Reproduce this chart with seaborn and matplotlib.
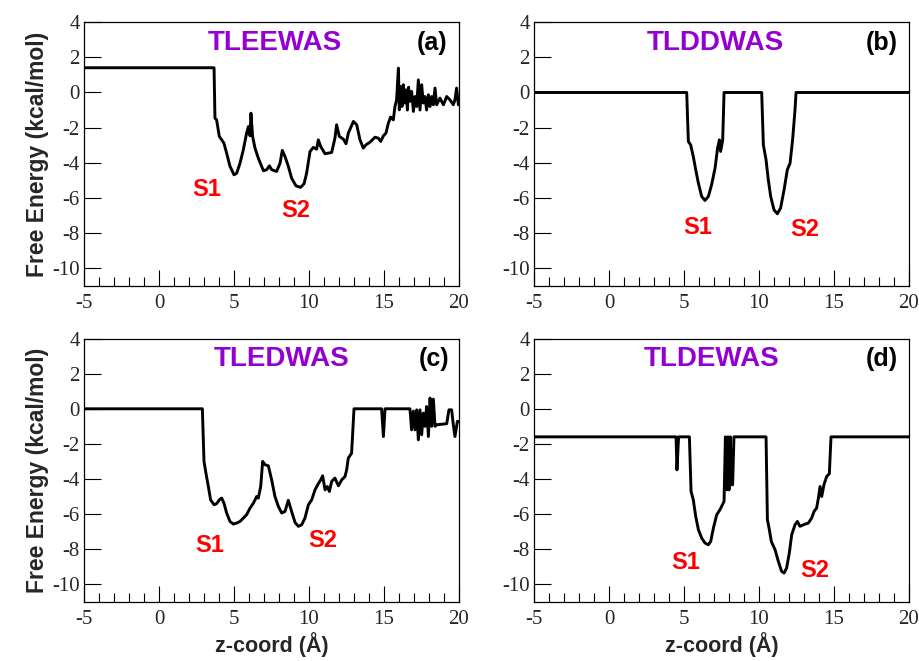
import numpy as np
import pandas as pd
import matplotlib
matplotlib.use("Agg")
import matplotlib.pyplot as plt
import seaborn as sns
from matplotlib.ticker import MultipleLocator

sns.set_theme(style="white")
plt.rcParams['font.family'] = ['Liberation Serif', 'DejaVu Sans']
plt.rcParams['axes.unicode_minus'] = False

# ---------------- data ----------------
x_a = [-5, 3.67, 3.73, 3.84, 4.02, 4.18, 4.33, 4.51, 4.73, 5.0, 5.18, 5.4, 5.62, 5.84, 5.96,
       6.07, 6.13, 6.24, 6.4, 6.62, 6.96, 7.18, 7.36, 7.51, 7.84, 8.07, 8.22, 8.4, 8.62, 8.84,
       9.13, 9.44, 9.67, 9.84, 10.07, 10.29, 10.51, 10.62, 10.78, 11.07, 11.51, 11.73, 11.84,
       12.02, 12.29, 12.47, 12.62, 12.96, 13.18, 13.4, 13.62, 13.8, 14.07, 14.4, 14.62, 14.78,
       14.96, 15.13, 15.29, 15.44, 15.62, 15.73, 15.84, 15.96, 16.02, 16.11, 16.2, 16.29, 16.38,
       16.47, 16.56, 16.64, 16.73, 16.84, 16.96, 17.07, 17.18, 17.29, 17.4, 17.51, 17.62, 17.73,
       17.84, 17.96, 18.07, 18.18, 18.29, 18.4, 18.51, 18.73, 18.96, 19.18, 19.4, 19.62, 19.73,
       19.84, 19.96, 20.1]
y_a = [1.41, 1.41, -1.46, -1.56, -2.5, -2.7, -2.89, -3.46, -4.2, -4.69, -4.6, -4.03, -3.27, -2.32,
       -1.94, -2.47, -1.18, -2.5, -3.17, -3.74, -4.46, -4.4, -4.18, -4.4, -4.5, -4.03, -3.3, -3.65,
       -4.2, -4.88, -5.32, -5.41, -5.2, -4.6, -3.36, -3.13, -3.23, -2.7, -3.08, -3.49, -3.42, -2.6,
       -1.84, -2.5, -2.66, -2.92, -2.32, -1.65, -1.84, -2.7, -3.17, -2.98, -2.83, -2.55, -2.6,
       -2.79, -2.47, -2.32, -1.75, -1.4, -1.56, -0.8, -0.42, 1.39, -0.99, 0.34, -0.8, 0.44, -0.6,
       0.15, -1.0, 0.3, -0.5, 0.06, -1.08, -0.23, -0.8, 0.72, -1.0, 0.44, -0.6, -0.23, -1.0, -0.13,
       -0.8, -0.23, -0.7, 0.25, -0.7, -0.32, -0.7, -0.23, -0.42, -0.7, -0.42, 0.25, -0.7, -0.7]

x_b = [-5, 5.18, 5.29, 5.44, 5.62, 5.78, 5.96, 6.18, 6.4, 6.62, 6.84, 7.07, 7.24, 7.36, 7.44,
       7.58, 7.67, 10.18, 10.29, 10.47, 10.62, 10.78, 11.0, 11.22, 11.44, 11.67, 11.89, 12.07,
       12.24, 12.4, 12.47, 20.1]
y_b = [0, 0, -2.79, -2.98, -3.65, -4.4, -5.17, -5.93, -6.15, -5.93, -5.26, -4.31, -3.17, -2.7,
       -3.36, -2.7, 0, 0, -2.98, -3.84, -4.98, -5.93, -6.69, -6.91, -6.59, -5.55, -4.4, -4.03,
       -2.7, -0.99, 0, 0]

x_c = [-5, 2.89, 3.0, 3.13, 3.29, 3.44, 3.67, 3.84, 4.02, 4.18, 4.33, 4.51, 4.73, 4.96, 5.18,
       5.4, 5.62, 5.84, 6.07, 6.29, 6.51, 6.62, 6.78, 6.91, 7.07, 7.29, 7.51, 7.73, 7.96, 8.18,
       8.4, 8.62, 8.84, 9.07, 9.29, 9.51, 9.73, 9.96, 10.18, 10.4, 10.62, 10.78, 10.91, 11.07,
       11.22, 11.36, 11.51, 11.73, 11.96, 12.18, 12.4, 12.51, 12.62, 12.84, 13.0, 14.84, 14.96,
       15.07, 16.73, 16.84, 16.96, 17.07, 17.18, 17.29, 17.4, 17.51, 17.62, 17.73, 17.84, 17.96,
       18.07, 18.18, 18.29, 18.4, 18.51, 19.18, 19.33, 19.51, 19.62, 19.73, 19.89, 20.1]
y_c = [0, 0, -3.0, -3.67, -4.43, -5.19, -5.47, -5.41, -5.19, -5.09, -5.38, -5.94, -6.42, -6.57,
       -6.51, -6.42, -6.23, -6.04, -5.66, -5.38, -5.0, -5.09, -4.43, -3.0, -3.19, -3.25, -4.05,
       -5.0, -5.57, -5.94, -5.85, -5.22, -5.85, -6.48, -6.7, -6.61, -6.23, -5.47, -5.19, -4.62,
       -4.27, -4.05, -3.82, -4.62, -4.43, -4.71, -4.14, -3.95, -4.39, -4.05, -3.86, -3.48, -2.81,
       -2.53, 0, 0, -1.58, 0, 0, -1.2, -0.13, -1.2, -0.06, -1.77, -0.06, -1.48, -0.25, -1.0, 0.13,
       -1.58, 0.61, -1.0, 0.55, -1.0, -0.91, -0.85, -0.06, -0.06, -0.91, -1.58, -0.72, -0.72]

x_d = [-5, 4.47, 4.53, 4.64, 5.36, 5.47, 5.62, 5.78, 5.96, 6.18, 6.4, 6.62, 6.78, 6.96, 7.18,
       7.4, 7.67, 7.76, 7.84, 7.93, 8.0, 8.09, 8.16, 8.24, 8.33, 10.47, 10.56, 10.69, 10.82,
       11.07, 11.29, 11.51, 11.67, 11.84, 12.02, 12.18, 12.4, 12.56, 12.73, 12.96, 13.29, 13.51,
       13.67, 13.84, 13.96, 14.07, 14.18, 14.33, 14.51, 14.69, 14.8, 20.1]
y_d = [-1.6, -1.6, -3.48, -1.6, -1.6, -4.71, -5.19, -6.13, -6.89, -7.37, -7.65, -7.75, -7.56,
       -6.8, -6.04, -5.75, -5.28, -1.6, -4.62, -1.6, -4.62, -1.6, -4.33, -4.33, -1.6, -1.6, -6.32,
       -6.89, -7.56, -8.03, -8.7, -9.27, -9.36, -9.08, -8.22, -7.18, -6.61, -6.42, -6.7, -6.61,
       -6.51, -6.23, -5.85, -5.66, -5.09, -4.43, -5.0, -4.33, -3.86, -3.7, -1.6, -1.6]

names = ["TLEEWAS", "TLDDWAS", "TLEDWAS", "TLDEWAS"]
panel_tags = ["(a)", "(b)", "(c)", "(d)"]
xs = [x_a, x_b, x_c, x_d]
ys = [y_a, y_b, y_c, y_d]
# label positions for S1 / S2 (data coordinates)
s1_pos = [(3.2, -5.55), (5.9, -7.7), (3.4, -7.8), (5.1, -8.75)]
s2_pos = [(9.1, -6.7), (13.05, -7.8), (10.95, -7.5), (13.7, -9.2)]
# title / tag positions (axes fraction)
title_x = [0.509, 0.483, 0.528, 0.475]
tag_x = [0.928, 0.928, 0.933, 0.928]

# ---------------- figure ----------------
fig = plt.figure(figsize=(9.2, 6.61), dpi=100)
W, H = 920, 661
boxes = [(84, 22.3, 459, 285.5), (534, 22.3, 909, 285.5),
         (84, 338.6, 459, 601.8), (534, 338.6, 909, 601.8)]

purple = "#9400D3"
sans = ['Liberation Sans', 'DejaVu Sans']

for i in range(4):
    l, t, r, b = boxes[i]
    ax = fig.add_axes([l / W, 1 - b / H, (r - l) / W, (b - t) / H])
    df = pd.DataFrame({"z": xs[i], "G": ys[i]})
    sns.lineplot(data=df, x="z", y="G", sort=False, estimator=None,
                 color="black", linewidth=2.1, ax=ax)
    ax.set_xlim(-5, 20)
    ax.set_ylim(-11, 4)
    ax.xaxis.set_major_locator(MultipleLocator(5))
    ax.xaxis.set_minor_locator(MultipleLocator(1))
    ax.set_yticks([4, 2, 0, -2, -4, -6, -8, -10])
    ax.tick_params(axis="x", which="major", direction="in", length=11.5, width=0.8,
                   labelsize=15, pad=6, bottom=True, top=False, color="black")
    ax.tick_params(axis="x", which="minor", direction="in", length=6.5, width=0.8,
                   bottom=True, top=False, color="black")
    ax.tick_params(axis="y", which="major", direction="in", length=12, width=0.8,
                   labelsize=15, pad=3, left=True, right=False, color="black")
    for s in ax.spines.values():
        s.set_color("black")
        s.set_linewidth(0.9)
    ax.set_xlabel("")
    ax.set_ylabel("")
    ax.grid(False)

    ax.text(title_x[i], 0.921, names[i], transform=ax.transAxes, ha="center", va="center",
            fontsize=20, fontweight="bold", color=purple, family=sans)
    ax.text(tag_x[i], 0.921, panel_tags[i], transform=ax.transAxes, ha="center", va="center",
            fontsize=18, fontweight="bold", color="black", family=sans)
    ax.text(*s1_pos[i], "S1", ha="center", va="center", fontsize=17, fontweight="bold",
            color="red", family=sans)
    ax.text(*s2_pos[i], "S2", ha="center", va="center", fontsize=17, fontweight="bold",
            color="red", family=sans)

    if i % 2 == 0:
        ax.set_ylabel("Free Energy (kcal/mol)", fontsize=16.5, fontweight="bold",
                      family=sans, labelpad=2)
    if i >= 2:
        ax.set_xlabel("z-coord (Å)", fontsize=15.5, fontweight="bold", family=sans,
                      labelpad=2)

fig.savefig("out.png", dpi=100)
